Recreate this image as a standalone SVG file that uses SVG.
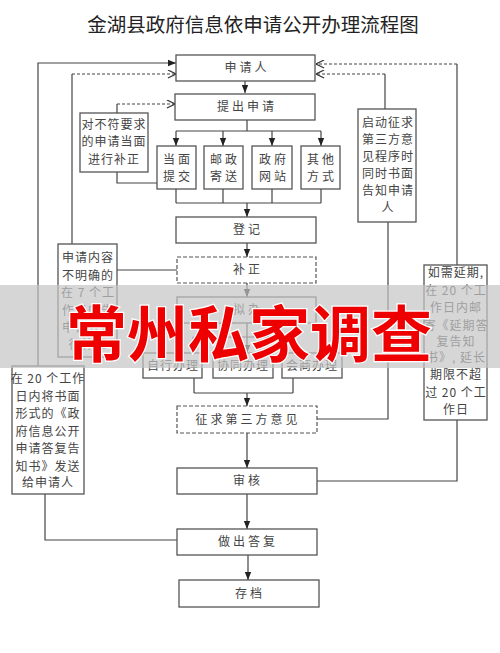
<svg xmlns="http://www.w3.org/2000/svg" width="500" height="653" viewBox="0 0 500 653">
<defs>
<marker id="af" viewBox="0 0 10 10" refX="10" refY="5" markerWidth="8" markerHeight="8" orient="auto" markerUnits="userSpaceOnUse"><path d="M0,1 L10,5 L0,9 z" fill="#222"/></marker>
<marker id="ao" viewBox="0 0 10 10" refX="10" refY="5" markerWidth="9" markerHeight="9" orient="auto" markerUnits="userSpaceOnUse"><path d="M1,0.5 L10,5 L1,9.5" fill="none" stroke="#333" stroke-width="1.3"/></marker>
</defs>
<style>
.b{fill:#fff;stroke:#555;stroke-width:1.3}
.d{fill:#fff;stroke:#555;stroke-width:1.2;stroke-dasharray:4 2}
.t{font-family:"Noto Sans CJK SC","Noto Sans CJK JP",sans-serif;font-size:12px;fill:#444;text-anchor:middle;letter-spacing:1px}
.tm{font-family:"Noto Sans CJK SC","Noto Sans CJK JP",sans-serif;font-size:12px;fill:#444;text-anchor:middle;letter-spacing:3px}
.c{fill:none;stroke:#444;stroke-width:1.2}
.cd{fill:none;stroke:#444;stroke-width:1.2;stroke-dasharray:3 2}
</style>
<rect width="500" height="653" fill="#fff"/>
<text x="253" y="32" font-family="Noto Sans CJK SC,sans-serif" font-size="19.5" fill="#222" text-anchor="middle">金湖县政府信息依申请公开办理流程图</text>

<g id="connectors">
<path class="c" d="M245,81 V93" marker-end="url(#af)"/>
<path class="c" d="M247,120 V131 M176,131 H321"/>
<path class="c" d="M176,131 V146" marker-end="url(#af)"/>
<path class="c" d="M223,131 V146" marker-end="url(#af)"/>
<path class="c" d="M272,131 V146" marker-end="url(#af)"/>
<path class="c" d="M321,131 V146" marker-end="url(#af)"/>
<path class="c" d="M176,189 V203 M223,189 V203 M272,189 V203 M321,189 V203 M176,203 H321"/>
<path class="c" d="M247,203 V217" marker-end="url(#af)"/>
<path class="c" d="M117,172 V183 H157"/>
<path class="c" d="M117,113 V104"/>
<path class="cd" d="M117,104 H175" marker-end="url(#ao)"/>
<path class="c" d="M247,243 V257" marker-end="url(#af)"/>
<path class="c" d="M117,270 H177"/>
<path class="c" d="M72,244 V74"/>
<path class="cd" d="M72,74 H176" marker-end="url(#ao)"/>
<path class="c" d="M247,283 V297" marker-end="url(#af)"/>
<path class="c" d="M247,323 V337 M193,337 H293"/>
<path class="c" d="M193,337 V353" marker-end="url(#af)"/>
<path class="c" d="M247,337 V353" marker-end="url(#af)"/>
<path class="c" d="M293,337 V353" marker-end="url(#af)"/>
<path class="c" d="M194,378 V393 M293,378 V393 M194,393 H293"/>
<path class="c" d="M247,393 V406" marker-end="url(#af)"/>
<path class="c" d="M247,433 V468" marker-end="url(#af)"/>
<path class="c" d="M247,494 V529" marker-end="url(#af)"/>
<path class="c" d="M248,555 V580" marker-end="url(#af)"/>
<path class="c" d="M177,540 H45 V494"/>
<path class="c" d="M38,366 V63 H176" marker-end="url(#af)"/>
<path class="c" d="M317,419 H388 V222"/>
<path class="c" d="M385,109 V74"/>
<path class="cd" d="M385,74 H316" marker-end="url(#ao)"/>
<path class="c" d="M317,481 H457 V420"/>
<path class="c" d="M457,265 V64"/>
<path class="cd" d="M457,64 H316" marker-end="url(#ao)"/>
</g>

<g id="n-shenqingren"><rect class="b" x="176" y="55" width="139" height="26"/><text class="tm" x="247" y="72">申请人</text></g>
<g id="n-tichu"><rect class="b" x="175" y="94" width="140" height="26"/><text class="tm" x="247" y="111">提出申请</text></g>
<g id="n-dangmian"><rect class="b" x="157" y="146" width="39" height="43"/><text class="tm" x="178" y="164">当面</text><text class="tm" x="178" y="181">提交</text></g>
<g id="n-youzheng"><rect class="b" x="204" y="146" width="39" height="43"/><text class="tm" x="225" y="164">邮政</text><text class="tm" x="225" y="181">寄送</text></g>
<g id="n-wangzhan"><rect class="b" x="252" y="146" width="40" height="43"/><text class="tm" x="274" y="164">政府</text><text class="tm" x="274" y="181">网站</text></g>
<g id="n-qita"><rect class="b" x="301" y="146" width="39" height="43"/><text class="tm" x="322" y="164">其他</text><text class="tm" x="322" y="181">方式</text></g>
<g id="n-buzheng1"><rect class="b" x="80" y="113" width="68" height="59"/><text class="t" x="114" y="129">对不符要求</text><text class="t" x="114" y="146">的申请当面</text><text class="t" x="114" y="164">进行补正</text></g>
<g id="n-dengji"><rect class="b" x="176" y="217" width="140" height="26"/><text class="tm" x="248" y="234">登记</text></g>
<g id="n-buzheng"><rect class="d" x="177" y="257" width="139" height="26"/><text class="tm" x="248" y="274">补正</text></g>
<g id="n-bumingque"><rect class="b" x="58" y="244" width="59" height="113"/><text class="t" x="88" y="262">申请内容</text><text class="t" x="88" y="280">不明确的</text><text class="t" x="88" y="297">在 7 个工</text><text class="t" x="88" y="315">作日内告</text><text class="t" x="88" y="332">申请人进</text><text class="t" x="88" y="349">行补正</text></g>
<g id="n-niban"><rect class="b" x="177" y="297" width="139" height="26"/><text class="tm" x="248" y="314">拟办</text></g>
<g id="n-zixing"><rect class="b" x="143" y="353" width="59" height="25"/><text class="t" x="173" y="370">自行办理</text></g>
<g id="n-xietong"><rect class="b" x="213" y="353" width="60" height="25"/><text class="t" x="243" y="370">协同办理</text></g>
<g id="n-huishang"><rect class="b" x="282" y="353" width="60" height="25"/><text class="t" x="312" y="370">会商办理</text></g>
<g id="n-zhengqiu"><rect class="d" x="177" y="406" width="140" height="27"/><text class="tm" x="248" y="424">征求第三方意见</text></g>
<g id="n-shenhe"><rect class="b" x="177" y="468" width="140" height="26"/><text class="tm" x="248" y="485">审核</text></g>
<g id="n-dafu"><rect class="b" x="177" y="529" width="140" height="26"/><text class="tm" x="248" y="546">做出答复</text></g>
<g id="n-cundang"><rect class="b" x="179" y="580" width="140" height="27"/><text class="tm" x="250" y="598">存档</text></g>
<g id="n-qidong"><rect class="b" x="358" y="109" width="58" height="113"/><text class="t" x="388" y="127">启动征求</text><text class="t" x="388" y="144">第三方意</text><text class="t" x="388" y="161">见程序时</text><text class="t" x="388" y="178">同时书面</text><text class="t" x="388" y="195">告知申请</text><text class="t" x="388" y="212">人</text></g>
<g id="n-yanqi"><rect class="b" x="424" y="265" width="63" height="155"/><text class="t" x="456" y="277">如需延期,</text><text class="t" x="456" y="295">在 20 个工</text><text class="t" x="456" y="312">作日内邮</text><text class="t" x="456" y="330">寄《延期答</text><text class="t" x="456" y="346">复告知</text><text class="t" x="456" y="362">书》, 延长</text><text class="t" x="456" y="379">期限不超</text><text class="t" x="456" y="397">过 20 个工</text><text class="t" x="456" y="414">作日</text></g>
<g id="n-gaozhi"><rect class="b" x="12" y="366" width="72" height="128"/><text class="t" x="48" y="383">在 20 个工作</text><text class="t" x="48" y="401">日内将书面</text><text class="t" x="48" y="418">形式的《政</text><text class="t" x="48" y="436">府信息公开</text><text class="t" x="48" y="453">申请答复告</text><text class="t" x="48" y="471">知书》发送</text><text class="t" x="48" y="487">给申请人</text></g>

<g id="watermark">
<rect x="0" y="285" width="500" height="83" fill="#c4c4c4" opacity="0.7"/>
<text x="249" y="357" font-family="Noto Sans CJK SC,sans-serif" font-size="61" font-weight="bold" fill="#ee0000" stroke="#fff" stroke-width="2.5" paint-order="stroke" text-anchor="middle">常州私家调查</text>
</g>
</svg>
